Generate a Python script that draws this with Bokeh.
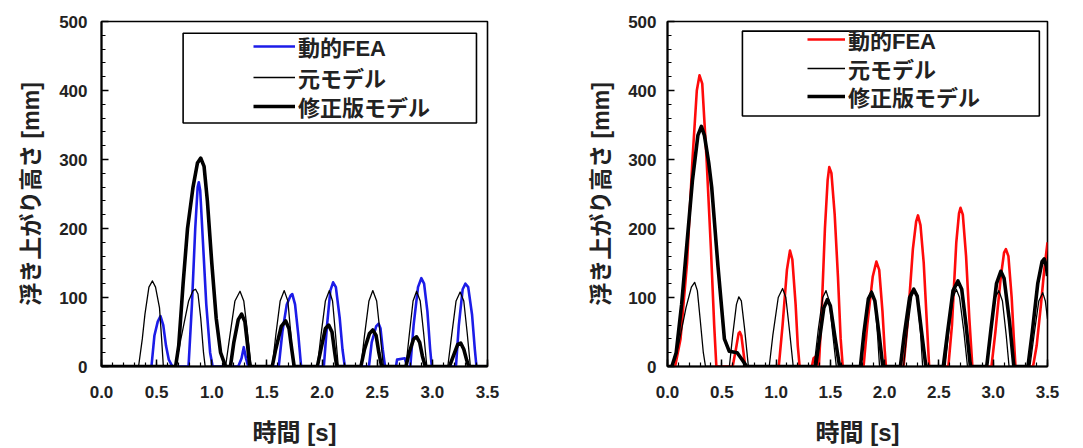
from bokeh.plotting import figure
from bokeh.models import (Range1d, FixedTicker, Legend, LegendItem, BoxAnnotation,
                          NumeralTickFormatter, Title)
from bokeh.layouts import row
from bokeh.embed import file_html
from bokeh.resources import INLINE

# ---------------- data ----------------
x_ticks = [0.0, 0.5, 1.0, 1.5, 2.0, 2.5, 3.0, 3.5]
y_ticks = [0, 100, 200, 300, 400, 500]
legend_labels = ["動的FEA", "元モデル", "修正版モデル"]
x_label = "時間 [s]"
y_label = "浮き上がり高さ [mm]"

# Left panel
left_fea_t = [0, 0.453, 0.48, 0.51, 0.535, 0.56, 0.585, 0.61, 0.643,
              0.789, 0.82, 0.85, 0.872, 0.882, 0.895, 0.92, 0.95, 0.985, 1.008,
              1.24, 1.27, 1.29, 1.31, 1.33,
              1.607, 1.64, 1.68, 1.715, 1.73, 1.755, 1.785, 1.81,
              2.016, 2.045, 2.075, 2.10, 2.125, 2.16, 2.185, 2.206,
              2.425, 2.45, 2.49, 2.513, 2.53, 2.55, 2.571,
              2.67, 2.68, 2.75, 2.77, 2.80, 2.83, 2.87, 2.90, 2.925, 2.955, 2.98, 2.995,
              3.214, 3.24, 3.275, 3.30, 3.325, 3.36, 3.385, 3.40, 3.5]
left_fea_v = [0, 0, 45, 65, 73, 60, 30, 10, 0,
              0, 90, 200, 260, 267, 255, 180, 90, 20, 0,
              0, 12, 28, 12, 0,
              0, 50, 90, 103, 105, 90, 45, 0,
              0, 60, 110, 122, 115, 70, 25, 0,
              0, 35, 58, 62, 55, 25, 0,
              0, 10, 12, 0, 0, 60, 115, 128, 120, 80, 25, 0,
              0, 60, 112, 120, 115, 75, 25, 0, 0]

left_orig_t = [0, 0.336, 0.37, 0.394, 0.43, 0.462, 0.49, 0.526, 0.545, 0.561,
               0.672, 0.72, 0.79, 0.83, 0.853, 0.875, 0.90, 0.925, 0.94,
               1.125, 1.16, 1.21, 1.256, 1.29, 1.32, 1.35, 1.36,
               1.548, 1.58, 1.62, 1.657, 1.69, 1.715, 1.738,
               1.957, 1.99, 2.03, 2.066, 2.095, 2.12, 2.147,
               2.352, 2.385, 2.425, 2.46, 2.495, 2.525, 2.556,
               2.76, 2.79, 2.825, 2.857, 2.89, 2.92, 2.95,
               3.14, 3.175, 3.215, 3.252, 3.285, 3.315, 3.345, 3.5]
left_orig_v = [0, 0, 40, 76, 115, 124, 115, 85, 40, 0,
               0, 40, 95, 110, 112, 105, 70, 20, 0,
               0, 40, 95, 109, 95, 55, 10, 0,
               0, 45, 95, 110, 95, 50, 0,
               0, 45, 95, 110, 95, 50, 0,
               0, 45, 95, 110, 95, 50, 0,
               0, 45, 95, 109, 95, 50, 0,
               0, 45, 95, 108, 95, 50, 0, 0]

left_mod_t = [0, 0.672, 0.70, 0.74, 0.78, 0.83, 0.87, 0.90, 0.93, 0.96, 1.00, 1.04, 1.08, 1.125,
              1.169, 1.20, 1.24, 1.27, 1.30, 1.325, 1.344,
              1.548, 1.58, 1.63, 1.67, 1.70, 1.725, 1.747,
              1.957, 1.99, 2.03, 2.06, 2.09, 2.115, 2.133,
              2.352, 2.385, 2.43, 2.46, 2.49, 2.515, 2.54,
              2.76, 2.79, 2.83, 2.857, 2.885, 2.91, 2.936,
              3.155, 3.19, 3.23, 3.257, 3.285, 3.31, 3.33, 3.5]
left_mod_v = [0, 0, 30, 120, 200, 260, 295, 302, 290, 240, 150, 70, 20, 0,
              0, 35, 68, 76, 65, 30, 0,
              0, 25, 58, 66, 55, 25, 0,
              0, 25, 55, 60, 50, 20, 0,
              0, 25, 48, 53, 45, 20, 0,
              0, 20, 40, 43, 35, 15, 0,
              0, 15, 32, 34, 25, 10, 0, 0]

# Right panel
right_fea_t = [0, 0.07, 0.12, 0.18, 0.23, 0.27, 0.295, 0.32, 0.36, 0.40, 0.43, 0.45,
               0.60, 0.63, 0.655, 0.666, 0.68, 0.70, 0.716,
               1.025, 1.06, 1.10, 1.128, 1.15, 1.18, 1.20, 1.217,
               1.33, 1.345, 1.37, 1.394, 1.42, 1.45, 1.475, 1.49, 1.51, 1.54, 1.57, 1.595, 1.614,
               1.806, 1.84, 1.89, 1.924, 1.95, 1.98, 2.00, 2.012,
               2.174, 2.21, 2.26, 2.29, 2.307, 2.33, 2.36, 2.39, 2.41,
               2.587, 2.62, 2.66, 2.685, 2.699, 2.72, 2.75, 2.78, 2.808,
               2.984, 3.02, 3.07, 3.10, 3.117, 3.14, 3.17, 3.19, 3.205,
               3.367, 3.40, 3.44, 3.47, 3.5]
right_fea_v = [0, 0, 40, 150, 300, 400, 422, 410, 300, 170, 60, 0,
               0, 25, 48, 50, 45, 20, 0,
               0, 60, 140, 168, 155, 90, 30, 0,
               0, 12, 15, 0, 80, 200, 270, 289, 280, 220, 130, 40, 0,
               0, 60, 130, 152, 140, 80, 25, 0,
               0, 60, 170, 210, 219, 205, 150, 60, 0,
               0, 60, 180, 222, 230, 220, 160, 70, 0,
               0, 50, 130, 165, 170, 160, 100, 40, 0,
               0, 30, 90, 140, 180]

right_orig_t = [0, 0.04, 0.10, 0.17, 0.22, 0.25, 0.275, 0.30, 0.33, 0.35,
                0.57, 0.60, 0.635, 0.657, 0.68, 0.71, 0.745,
                0.937, 0.97, 1.02, 1.06, 1.09, 1.125, 1.158,
                1.35, 1.39, 1.43, 1.46, 1.49, 1.52, 1.555,
                1.777, 1.81, 1.85, 1.88, 1.91, 1.935, 1.953,
                2.174, 2.21, 2.25, 2.277, 2.30, 2.33, 2.35,
                2.557, 2.59, 2.63, 2.66, 2.69, 2.73, 2.763,
                2.94, 2.975, 3.02, 3.052, 3.085, 3.12, 3.146,
                3.338, 3.38, 3.42, 3.456, 3.48, 3.5]
right_orig_v = [0, 0, 30, 85, 115, 122, 110, 70, 20, 0,
                0, 45, 90, 101, 95, 55, 0,
                0, 45, 100, 113, 100, 50, 0,
                0, 55, 100, 110, 95, 50, 0,
                0, 50, 100, 110, 95, 45, 0,
                0, 55, 102, 111, 100, 50, 0,
                0, 50, 100, 112, 100, 50, 0,
                0, 50, 100, 110, 95, 45, 0,
                0, 50, 95, 107, 95, 69]

right_mod_t = [0, 0.04, 0.08, 0.13, 0.18, 0.23, 0.28, 0.312, 0.34, 0.38, 0.407, 0.465,
               0.524, 0.569, 0.642, 0.686, 0.73,
               1.364, 1.40, 1.44, 1.473, 1.50, 1.54, 1.585,
               1.777, 1.81, 1.85, 1.88, 1.91, 1.95, 1.983,
               2.145, 2.18, 2.23, 2.268, 2.30, 2.34, 2.38,
               2.54, 2.58, 2.63, 2.675, 2.71, 2.75, 2.79,
               2.94, 2.98, 3.03, 3.07, 3.10, 3.15, 3.19,
               3.32, 3.36, 3.41, 3.45, 3.47, 3.49, 3.5]
right_mod_v = [0, 0, 20, 90, 180, 270, 335, 348, 335, 295, 260, 145,
               40, 22, 20, 10, 0,
               0, 40, 85, 97, 88, 45, 0,
               0, 50, 98, 107, 95, 45, 0,
               0, 45, 100, 112, 102, 50, 0,
               0, 50, 110, 124, 112, 60, 0,
               0, 55, 120, 138, 128, 65, 0,
               0, 50, 120, 152, 156, 145, 131]

# ---------------- styling ----------------
TICK_FONT = "'Liberation Sans', 'Noto Sans CJK JP'"
LABEL_FONT = "'Liberation Sans', 'Noto Sans CJK JP'"
BLUE = "#1c1ce8"
RED = "#ff0a0a"


def make_panel(width, height, bl, br, bt, bb, fea_t, fea_v, orig_t, orig_v, mod_t, mod_v,
               fea_color, ytick_standoff, ytitle_standoff, legend_x, legend_ys, glyph_w, box):
    p = figure(width=width, height=height, output_backend="svg", toolbar_location=None,
               x_range=Range1d(0, 3.5), y_range=Range1d(0, 500),
               min_border_left=bl, min_border_right=br, min_border_top=bt, min_border_bottom=bb,
               background_fill_color="white", border_fill_color="white")
    p.xgrid.visible = False
    p.ygrid.visible = False
    p.outline_line_color = "black"
    p.outline_line_width = 1.6
    p.outline_line_alpha = 1.0

    p.xaxis.ticker = FixedTicker(ticks=x_ticks,
                                 minor_ticks=[round(i * 0.1, 1) for i in range(36)])
    p.yaxis.ticker = FixedTicker(ticks=y_ticks, minor_ticks=list(range(0, 501, 20)))
    p.xaxis.formatter = NumeralTickFormatter(format="0.0")
    for ax in (p.xaxis[0], p.yaxis[0]):
        ax.major_tick_in = 7
        ax.major_tick_out = 0
        ax.minor_tick_in = 4
        ax.minor_tick_out = 0
        ax.axis_line_width = 2
        ax.major_tick_line_width = 1.5
        ax.minor_tick_line_width = 1.2
        ax.major_label_text_font = TICK_FONT
        ax.major_label_text_font_style = "bold"
        ax.major_label_text_font_size = "17px"
        ax.major_label_text_color = "#222222"
        ax.axis_label_text_font = LABEL_FONT
        ax.axis_label_text_font_style = "bold"
        ax.axis_label_text_font_size = "24px"
        ax.axis_label_text_color = "#222222"
    p.xaxis.axis_label = x_label
    p.xaxis.major_label_standoff = 19
    p.xaxis.axis_label_standoff = 18
    p.yaxis.major_label_standoff = ytick_standoff

    # y-axis title, shifted toward the top as in the reference
    p.add_layout(Title(text=y_label, align="center", offset=55, standoff=ytitle_standoff,
                       text_font=LABEL_FONT, text_font_style="bold", text_font_size="23px",
                       text_color="#222222"), "left")

    r_fea = p.line(fea_t, fea_v, line_color=fea_color, line_width=2.6, line_join="round")
    r_orig = p.line(orig_t, orig_v, line_color="black", line_width=1.3, line_join="round")
    r_mod = p.line(mod_t, mod_v, line_color="black", line_width=3.6, line_join="round")

    p.add_layout(BoxAnnotation(left=box[0], right=box[1], bottom=box[2], top=box[3],
                               fill_alpha=0, line_color="black", line_alpha=1.0,
                               line_width=1.6))
    for label, rend, ly in zip(legend_labels, [r_fea, r_orig, r_mod], legend_ys):
        legend = Legend(items=[LegendItem(label=label, renderers=[rend])],
                        location=(legend_x, ly), border_line_alpha=0,
                        background_fill_alpha=0,
                        glyph_width=glyph_w, glyph_height=20, label_height=20,
                        label_standoff=3, padding=0, spacing=0, margin=0,
                        label_text_font=LABEL_FONT, label_text_font_style="bold",
                        label_text_font_size="22px", label_text_color="#222222")
        p.add_layout(legend)
    return p


p1 = make_panel(538, 448, 101, 51, 21, 79,
                left_fea_t, left_fea_v, left_orig_t, left_orig_v, left_mod_t, left_mod_v,
                BLUE, 14, 26, 152, (304, 273, 244), 42, (0.74, 3.40, 353, 483))
p2 = make_panel(545, 448, 129, 36, 17, 79,
                right_fea_t, right_fea_v, right_orig_t, right_orig_v, right_mod_t, right_mod_v,
                RED, 11, 24, 140, (311, 282, 254), 38, (0.69, 3.425, 363, 486))

layout = row(p1, p2)
open("out.html", "w").write(file_html(layout, INLINE))
